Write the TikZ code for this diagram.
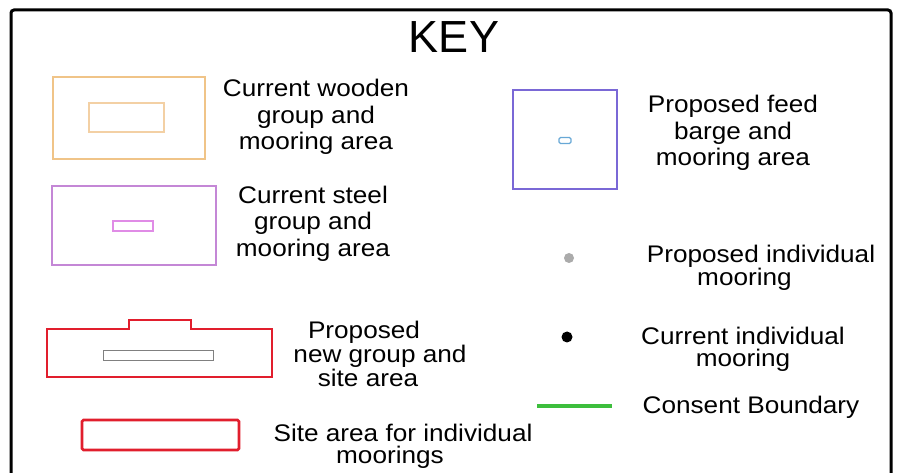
\documentclass[tikz,border=0pt]{standalone}
\usepackage{fontspec}
\setmainfont{Liberation Sans}[FakeStretch=1.09]
\newfontfamily\keyfont{Liberation Sans}
\definecolor{woodout}{HTML}{F0C488}
\definecolor{woodin}{HTML}{F3D0A4}
\definecolor{steelout}{HTML}{C487D6}
\definecolor{steelin}{HTML}{E08CE6}
\definecolor{sitered}{HTML}{E11E2D}
\definecolor{bargeout}{HTML}{7A68D6}
\definecolor{bargein}{HTML}{68A8D6}
\definecolor{boundgreen}{HTML}{3DBE3D}
\definecolor{propgray}{HTML}{ABABAB}
\begin{document}
\begin{tikzpicture}[x=1pt,y=-1pt,
  lbl3/.style={align=center,font=\fontsize{24}{26.5}\selectfont,inner sep=0pt},
  lbl2/.style={align=center,font=\fontsize{24}{22}\selectfont,inner sep=0pt},
  lbl24/.style={align=center,font=\fontsize{24}{24}\selectfont,inner sep=0pt},
  thinbox/.style={line width=1.3pt},
  redbox/.style={draw=sitered,line width=2.8pt}]
\useasboundingbox (0,0) rectangle (898,473);
\fill[white] (0,0) rectangle (898,473);
\begin{scope}
\clip (0,0) rectangle (898,473);
\draw[line width=3pt,rounded corners=3pt] (11,490) -- (11,10) -- (891,10) -- (891,490);
\end{scope}
\node[font=\keyfont\fontsize{45}{45}\selectfont,inner sep=0pt] (key) at (454,37) {KEY};
% wooden
\draw[thinbox,draw=woodout] (53,77) rectangle (205,159);
\draw[thinbox,draw=woodin] (89,103) rectangle (164,132);
\node[lbl3] (twood) at (316,117) {Current wooden\\group and\\mooring area};
% steel
\draw[thinbox,draw=steelout] (52,186) rectangle (216,265);
\draw[thinbox,draw=steelin] (113,221) rectangle (153,231);
\node[lbl3] (tsteel) at (313,223.5) {Current steel\\group and\\mooring area};
% proposed new group
\draw[redbox] (47,329) -- (129,329) -- (129,320) -- (191,320) -- (191,329) -- (272,329) -- (272,377) -- (47,377) -- cycle;
\draw[line width=0.9pt,draw=gray] (103,350) rectangle (213,360);
\node[lbl24] (tnew) at (380,353.5) {Proposed\hspace*{32pt}\\new group and\\site area\hspace*{24pt}};
% site area individual
\draw[redbox,rounded corners=1.5pt] (82,420) rectangle (239,450);
\node[lbl2] (tsite) at (403,446) {Site area for individual\\moorings\hspace*{26pt}};
% feed barge
\draw[line width=1.5pt,draw=bargeout] (513,90) rectangle (617,189);
\draw[line width=1.3pt,draw=bargein,rounded corners=1.5pt] (559,137.5) rectangle (571,143.5);
\node[lbl3] (tbarge) at (733,133) {Proposed feed\\barge and\\mooring area};
% proposed individual mooring
\fill[propgray] (569,258) circle (5pt) coordinate (pdot);
\node[lbl2] (tprop) at (761,268) {Proposed individual\\mooring\hspace*{33pt}};
% current individual mooring
\fill[black] (567,337) circle (5.5pt) coordinate (cdot);
\node[lbl2] (tcur) at (743,349.5) {Current individual\\mooring};
% consent boundary
\coordinate (g1) at (537,406);
\coordinate (g2) at (612,406);
\draw[line width=3.5pt,draw=boundgreen] (g1) -- (g2);
\node[font=\fontsize{24}{24}\selectfont,inner sep=0pt] (tcons) at (751,407) {Consent Boundary};
\end{tikzpicture}
\end{document}
